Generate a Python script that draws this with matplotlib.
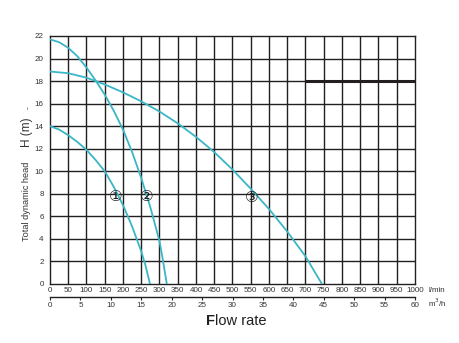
import matplotlib
matplotlib.use("Agg")
import matplotlib.pyplot as plt
import matplotlib.transforms as mtransforms

plt.rcParams['font.family'] = ['Liberation Sans', 'DejaVu Sans']

# ---- data ----
flow_ticks = list(range(0, 1001, 50))          # l/min
m3h_ticks = list(range(0, 61, 5))              # m3/h
head_ticks = list(range(0, 23, 2))             # m

c1_flow = [0, 25, 50, 75, 100, 125, 150, 175, 200, 225, 250, 262, 274]
c1_head = [14.0, 13.7, 13.2, 12.6, 11.9, 11.0, 10.0, 8.6, 7.0, 5.1, 2.9, 1.6, 0.0]

c2_flow = [0, 25, 50, 75, 100, 125, 150, 175, 200, 225, 250, 275, 300, 310, 320]
c2_head = [21.7, 21.45, 20.95, 20.2, 19.2, 18.05, 16.8, 15.35, 13.7, 11.7, 9.4, 6.8, 3.8, 2.0, 0.0]

c3_flow = [0, 50, 100, 150, 200, 250, 300, 350, 400, 450, 500, 550, 600, 650, 700, 745]
c3_head = [18.85, 18.7, 18.3, 17.7, 17.0, 16.2, 15.3, 14.25, 13.05, 11.7, 10.15, 8.45, 6.65, 4.65, 2.45, 0.0]

labels = ["①", "②", "③"]
label_flow = [180, 265, 552]
label_head = [7.8, 7.75, 7.7]

ref_flow = [700, 1000]
ref_head = [18, 18]

# ---- figure ----
W, H = 460, 343
fig = plt.figure(figsize=(W / 100, H / 100), dpi=100)
x0, x1, ytop, ybot = 50, 415, 36, 284
ax = fig.add_axes([x0 / W, (H - ybot) / H, (x1 - x0) / W, (ybot - ytop) / H])

grid_c = '#231f20'
curve_c = '#3ab6c6'

ax.set_xlim(0, 1000)
ax.set_ylim(0, 22)
for v in flow_ticks[1:-1]:
    ax.axvline(v, color=grid_c, lw=1.0, zorder=1)
for v in head_ticks[1:-1]:
    ax.axhline(v, color=grid_c, lw=1.0, zorder=1)
for s in ax.spines.values():
    s.set_color(grid_c)
    s.set_linewidth(1.0)

ax.plot(ref_flow, ref_head, color=grid_c, lw=2.2, zorder=2, solid_capstyle='butt')

for fx, hy in [(c1_flow, c1_head), (c2_flow, c2_head), (c3_flow, c3_head)]:
    ax.plot(fx, hy, color=curve_c, lw=1.3, zorder=3, solid_joinstyle='round')

for t, fx, hy in zip(labels, label_flow, label_head):
    ax.text(fx, hy, t, fontsize=11, ha='center', va='center', color='#231f20',
            family=['DejaVu Sans'], zorder=4)

ax.set_xticks(flow_ticks)
ax.set_xticklabels([str(v) for v in flow_ticks], fontsize=5.8, color='#333333')
ax.set_yticks(head_ticks)
ax.set_yticklabels([str(v) for v in head_ticks], fontsize=5.8, color='#333333')
ax.tick_params(axis='x', length=0, pad=2.5)
ax.tick_params(axis='y', length=0, pad=4.5)

# secondary m3/h axis
sec = ax.secondary_xaxis(-0.052, functions=(lambda x: x * 60 / 1000, lambda x: x * 1000 / 60))
sec.set_xticks(m3h_ticks)
sec.set_xticklabels([str(v) for v in m3h_ticks], fontsize=5.8, color='#333333')
sec.tick_params(axis='x', length=2.5, width=0.8, pad=1, color=grid_c)
sec.spines['bottom'].set_linewidth(1.0)
sec.spines['bottom'].set_color(grid_c)

# unit labels
trans = mtransforms.blended_transform_factory(ax.transAxes, ax.transAxes)
ax.text(1.036, -0.028, "l/min", transform=trans, fontsize=5.8, ha='left', va='center', color='#333333')
ax.text(1.036, -0.076, "m$^3$/h", transform=trans, fontsize=5.8, ha='left', va='center', color='#333333')

# y label
fig.text(27 / W, 1 - 201 / H, "Total dynamic head", rotation=90, fontsize=6.6,
         ha='center', va='center', color='#333333')
fig.text(27 / W, 1 - 132 / H, "H (m)", rotation=90, fontsize=8.5,
         ha='center', va='center', color='#333333')
fig.text(28 / W, 1 - 108 / H, "-", rotation=90, fontsize=6,
         ha='center', va='center', color='#333333')

# x label
ftxt = fig.text(206 / W, 1 - 321 / H, "F", fontsize=10.5, fontweight='bold',
                ha='left', va='center', color='#231f20')
fig.canvas.draw()
bb = ftxt.get_window_extent(fig.canvas.get_renderer())
fig.text((bb.x1 + 0.3) / W, 1 - 321 / H, "low rate", fontsize=10.5, ha='left', va='center', color='#231f20')

fig.savefig("out.png", dpi=100, facecolor='white')
